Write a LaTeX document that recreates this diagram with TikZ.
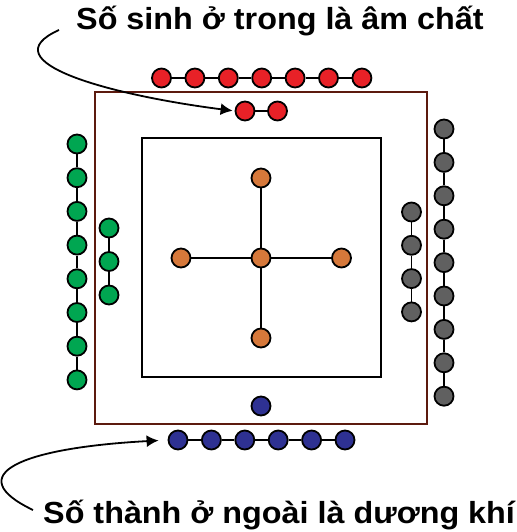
\documentclass[tikz,border=0pt]{standalone}
\usepackage{fontspec}
\setmainfont{Liberation Sans}
\usetikzlibrary{arrows.meta}
\definecolor{dotred}{RGB}{232,33,39}
\definecolor{dotblue}{RGB}{46,49,146}
\definecolor{dotgreen}{RGB}{0,166,81}
\definecolor{dotgray}{RGB}{96,96,96}
\definecolor{dotorange}{RGB}{214,120,58}
\definecolor{framebrown}{RGB}{92,26,14}

\begin{document}
\begin{tikzpicture}[x=1pt,y=1pt]
\tikzstyle{every node}+=[inner sep=0pt]
\tikzstyle{dot}=[circle,draw=black,line width=1.8pt,minimum size=19pt]
\tikzstyle{link}=[black,line width=1.8pt]
\tikzstyle{pointer}=[black,line width=1.8pt,-{Latex[length=12pt,width=12pt]}]
\tikzstyle{caption}=[anchor=base west,xscale=1.06,transform shape,font=\fontsize{30.5}{36}\selectfont\bfseries]
\useasboundingbox (0,0) rectangle (516,-532);
\draw [framebrown,line width=1.5pt] (95,-92) rectangle (427,-424);
\draw [black,line width=2.5pt] (142,-138) rectangle (381,-377);
\foreach \i in {1,...,7} \node [dot,fill=dotred] (r\i) at (161.5+33.4*\i-33.4,-78) {};
\node [dot,fill=dotred] (ri1) at (245,-111) {};
\node [dot,fill=dotred] (ri2) at (277.5,-111) {};
\foreach \i in {1,...,6} \node [dot,fill=dotblue] (b\i) at (178+33.4*\i-33.4,-440) {};
\node [dot,fill=dotblue] (bi1) at (261,-406) {};
\foreach \i in {1,...,8} \node [dot,fill=dotgreen] (g\i) at (77,-144-33.7*\i+33.7) {};
\foreach \i in {1,...,3} \node [dot,fill=dotgreen] (gi\i) at (109,-228-33.5*\i+33.5) {};
\foreach \i in {1,...,9} \node [dot,fill=dotgray] (k\i) at (444,-129-33.4*\i+33.4) {};
\foreach \i in {1,...,4} \node [dot,fill=dotgray] (ki\i) at (411.5,-212-33.3*\i+33.3) {};
\node [dot,fill=dotorange] (o) at (261,-258) {};
\node [dot,fill=dotorange] (on) at (261,-178) {};
\node [dot,fill=dotorange] (os) at (261,-338) {};
\node [dot,fill=dotorange] (ow) at (181,-258) {};
\node [dot,fill=dotorange] (oe) at (341.5,-258) {};
% chains
\foreach \i in {2,...,7} {\pgfmathtruncatemacro\k{\i-1} \draw [link] (r\k) -- (r\i);}
\draw [link] (ri1) -- (ri2);
\foreach \i in {2,...,6} {\pgfmathtruncatemacro\k{\i-1} \draw [link] (b\k) -- (b\i);}
\foreach \i in {2,...,8} {\pgfmathtruncatemacro\k{\i-1} \draw [link] (g\k) -- (g\i);}
\foreach \i in {2,...,3} {\pgfmathtruncatemacro\k{\i-1} \draw [link] (gi\k) -- (gi\i);}
\foreach \i in {2,...,9} {\pgfmathtruncatemacro\k{\i-1} \draw [link] (k\k) -- (k\i);}
\foreach \i in {2,...,4} {\pgfmathtruncatemacro\k{\i-1} \draw [link] (ki\k) -- (ki\i);}
\draw [link] (o) -- (on);
\draw [link] (o) -- (os);
\draw [link] (o) -- (ow);
\draw [link] (o) -- (oe);
% labels
\node [caption] (inner) at (76,-30) {Số sinh ở trong là âm chất};
\node [caption] (outer) at (43,-523) {Số thành ở ngoài là dương khí};
\coordinate (ia) at (59,-30);
\coordinate (oa) at (33,-510);
\draw [pointer,shorten >=2pt] (ia) .. controls (-12,-62) and (110,-95) .. (ri1.west);
\draw [pointer,shorten >=9pt] (oa) .. controls (-40,-475) and (20,-448) .. (b1.west);
\end{tikzpicture}
\end{document}
